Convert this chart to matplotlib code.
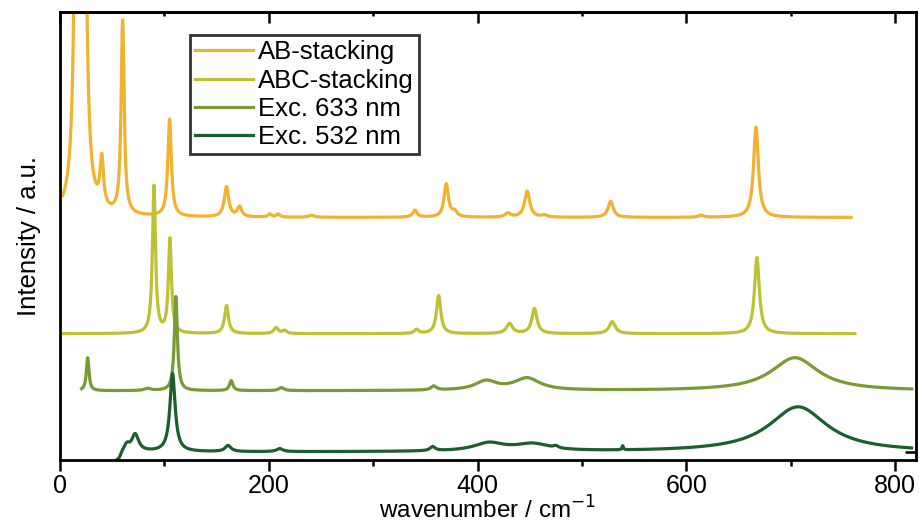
import numpy as np
import matplotlib
matplotlib.use("Agg")
import matplotlib.pyplot as plt
from matplotlib.ticker import MultipleLocator

# ---- data (heights in plot units, offsets included) ----
labels = ["AB-stacking", "ABC-stacking", "Exc. 633 nm", "Exc. 532 nm"]
colors = ["#F2B12E", "#BCC233", "#7A9A35", "#1C5E2E"]

ab_range = [2.5, 758.0]
ab_base = 242.0
ab_pos = [16.5, 22.5, 40.0, 60.0, 105.0, 159.5, 172.0, 201.0, 209.0, 241.0, 340.0, 370.0, 378.0, 429.0, 447.5, 464.0, 527.5, 614.0, 666.7]
ab_amp = [570, 570, 48, 193, 97, 30, 10, 3, 3, 2, 7, 33, 5, 4, 26, 2, 16, 2, 90]
ab_fwhm = [4.5, 4.5, 4.0, 3.5, 4.0, 5.0, 5.0, 4.0, 4.0, 6.0, 5.0, 5.0, 6.0, 6.0, 6.0, 6.0, 6.0, 6.0, 5.5]

abc_range = [2.0, 761.7]
abc_base = 126.0
abc_pos = [90.0, 105.3, 159.5, 207.0, 215.0, 341.5, 362.7, 430.6, 454.5, 529.0, 667.6]
abc_amp = [147, 94, 28, 6, 3, 4, 38, 10, 25, 12, 76]
abc_fwhm = [3.5, 3.5, 4.5, 5.0, 5.0, 5.0, 5.0, 7.0, 6.0, 7.0, 5.5]

e633_range = [20.7, 816.0]
e633_base = 69.0
e633_pos = [26.5, 84.0, 111.0, 164.0, 212.0, 358.0, 408.0, 447.5, 704.0]
e633_amp = [33, 2, 94, 10, 3, 4, 9, 12, 33]
e633_fwhm = [3.0, 8.0, 3.5, 4.0, 6.0, 6.0, 25.0, 30.0, 55.0]

e532_range = [55.0, 816.0]
e532_edge = 58.0
e532_base = 8.0
e532_pos = [64.0, 72.0, 107.8, 161.0, 210.5, 357.0, 411.0, 453.0, 475.0, 539.0, 707.0]
e532_amp = [6, 17, 78, 6, 3, 4, 8, 7, 2, 4, 45]
e532_fwhm = [6.0, 8.0, 6.0, 7.0, 7.0, 6.0, 35.0, 40.0, 5.0, 1.5, 68.0]


def spectrum(rng, base, pos, amp, fwhm, edge=None):
    x = np.arange(rng[0], rng[1], 0.25)
    y = np.full_like(x, base)
    for p, a, w in zip(pos, amp, fwhm):
        g = w / 2.0
        y += a * g * g / ((x - p) ** 2 + g * g)
    if edge is not None:
        y = y / (1.0 + np.exp(-(x - edge) / 1.2))
    return x, y


series = [
    spectrum(ab_range, ab_base, ab_pos, ab_amp, ab_fwhm),
    spectrum(abc_range, abc_base, abc_pos, abc_amp, abc_fwhm),
    spectrum(e633_range, e633_base, e633_pos, e633_amp, e633_fwhm),
    spectrum(e532_range, e532_base, e532_pos, e532_amp, e532_fwhm, edge=e532_edge),
]

plt.rcParams["font.family"] = ["Liberation Sans", "DejaVu Sans"]

fig = plt.figure(figsize=(9.19, 5.24), dpi=100)
ax = fig.add_axes([60 / 919, 1 - 460 / 524, 856 / 919, 448 / 524])

for (x, y), c, lab in zip(series, colors, labels):
    ax.plot(x, y, color=c, lw=2.3, label=lab, solid_joinstyle="round")

ax.set_xlim(0, 820)
ax.set_ylim(0, 447)

ax.xaxis.set_major_locator(MultipleLocator(200))
ax.xaxis.set_minor_locator(MultipleLocator(100))
ax.tick_params(axis="x", which="major", direction="out", length=8, width=1.8, labelsize=18, pad=2)
ax.tick_params(axis="x", which="minor", direction="out", length=4, width=1.8)

top = ax.secondary_xaxis("top")
top.xaxis.set_major_locator(MultipleLocator(200))
top.xaxis.set_minor_locator(MultipleLocator(100))
top.tick_params(axis="x", which="major", direction="in", length=8, width=1.8, labeltop=False)
top.tick_params(axis="x", which="minor", direction="in", length=3, width=1.8)
top.spines["top"].set_linewidth(2.0)

ax.set_yticks([8])
ax.tick_params(axis="y", which="major", direction="in", length=8, width=1.8,
               left=False, right=True, labelleft=False)
for s in ax.spines.values():
    s.set_linewidth(2.0)

ax.set_xlabel("wavenumber / cm$^{-1}$", fontsize=17.5, labelpad=-1)
ax.set_ylabel("Intensity / a.u.", fontsize=18.5, labelpad=14)

leg = ax.legend(loc="upper left", bbox_to_anchor=((190 - 60) / 856, (460 - 35) / 448),
                fontsize=18.5, frameon=True, fancybox=False, borderpad=0.2,
                handlelength=2.25, handletextpad=0.2, labelspacing=0.17, borderaxespad=0)
leg.get_frame().set_edgecolor("black")
leg.get_frame().set_linewidth(2.0)

fig.savefig("out.png", dpi=100)
